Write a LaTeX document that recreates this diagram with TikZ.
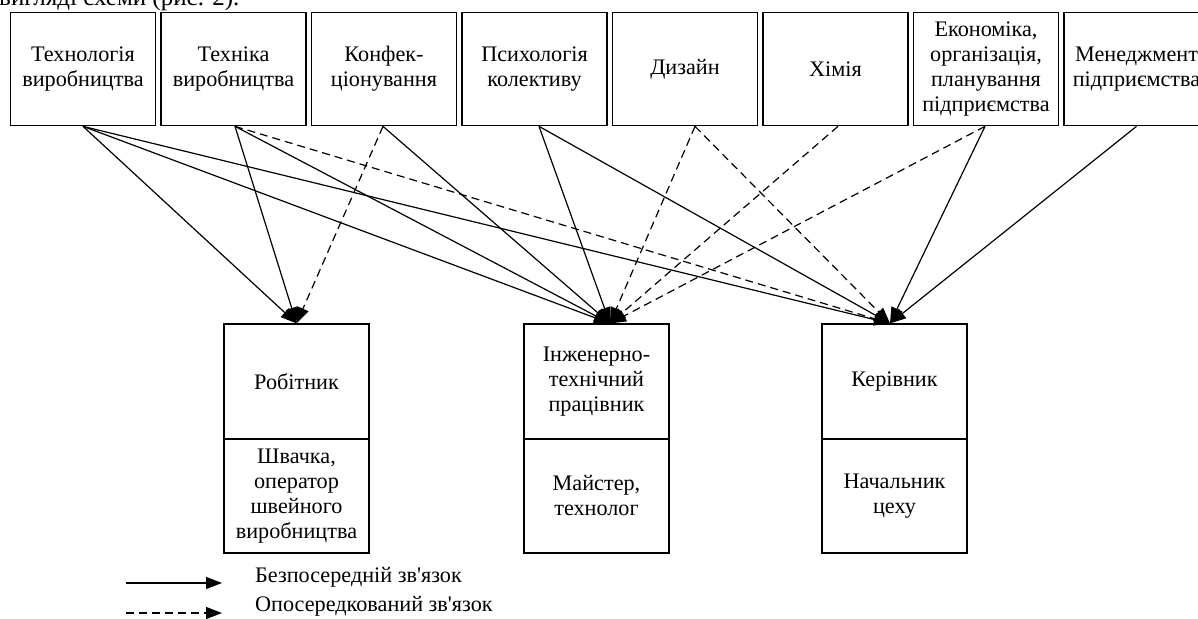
\documentclass[tikz,border=0pt]{standalone}
\usepackage{fontspec}
\newfontfamily\serif{Liberation Serif}
\usetikzlibrary{arrows.meta}
\begin{document}
\begin{tikzpicture}[x=1pt,y=-1pt,
  txt/.style={font=\serif\fontsize{22.2}{25}\selectfont,inner sep=0pt},
  box/.style={txt,draw,line width=1.2pt,minimum width=145pt,minimum height=113.5pt,align=center},
  conn/.style={line width=1.2pt,-{Triangle[length=16pt,width=12pt]}},
  ind/.style={conn,dash pattern=on 8pt off 5pt}
]
\useasboundingbox (0,0) rectangle (1198,618);
\clip (0,0) rectangle (1198,618);

\node[txt,font=\serif\fontsize{25}{28}\selectfont,anchor=base west] (intro) at (-1,5.5) {вигляді схеми (рис. 2).};

% top boxes
\node[box] (t1) at (83,69) {Технологія\\виробництва};
\node[box] (t2) at (233.5,69) {Техніка\\виробництва};
\node[box] (t3) at (384,69) {Конфек-\\ціонування};
\node[box] (t4) at (534.5,69) {Психологія\\колективу};
\node[box] (t5) at (685,69) {Дизайн};
\node[box] (t6) at (835.5,69) {Хімія};
\node[box] (t7) at (986,69) {Економіка,\\організація,\\планування\\підприємства};
\node[box] (t8) at (1136.5,69) {Менеджмент\\підприємства};

% bottom boxes
\node[box,minimum height=115pt] (rob) at (296.5,381.5) {Робітник};
\node[box,minimum height=114pt] (robs) at (296.5,496) {Швачка,\\оператор\\швейного\\виробництва};
\node[box,minimum height=115pt] (ing) at (596.5,381.5) {Інженерно-\\технічний\\працівник};
\node[box,minimum height=114pt] (ings) at (596.5,496) {Майстер,\\технолог};
\node[box,minimum height=115pt] (ker) at (894.5,381.5) {Керівник};
\node[box,minimum height=114pt] (kers) at (894.5,496) {Начальник\\цеху};

% connectors
\draw[conn] (t1.south) -- (rob.north);
\draw[conn] (t1.south) -- ([xshift=13.5pt]ing.north);
\draw[conn] (t1.south) -- ([xshift=-4.5pt]ker.north);

\draw[conn] ([xshift=1.5pt]t2.south) -- (rob.north);
\draw[conn] ([xshift=1.5pt]t2.south) -- ([xshift=13.5pt]ing.north);
\draw[ind] ([xshift=1.5pt]t2.south) -- ([xshift=-4.5pt]ker.north);

\draw[ind] ([xshift=-1pt]t3.south) -- (rob.north);
\draw[conn] ([xshift=-1pt]t3.south) -- ([xshift=13.5pt]ing.north);

\draw[conn] ([xshift=4.5pt]t4.south) -- ([xshift=13.5pt]ing.north);
\draw[conn] ([xshift=4.5pt]t4.south) -- ([xshift=-4.5pt]ker.north);

\draw[ind] ([xshift=10pt]t5.south) -- ([xshift=13.5pt]ing.north);
\draw[ind] ([xshift=10pt]t5.south) -- ([xshift=-4.5pt]ker.north);

\draw[ind] ([xshift=2.5pt]t6.south) -- ([xshift=13.5pt]ing.north);

\draw[ind] ([xshift=-1pt]t7.south) -- ([xshift=13.5pt]ing.north);
\draw[conn] ([xshift=-1pt]t7.south) -- ([xshift=-4.5pt]ker.north);

\draw[conn] (t8.south) -- ([xshift=-4.5pt]ker.north);

% legend
\coordinate (l1a) at (126,583);
\coordinate (l1b) at (222,583);
\coordinate (l2a) at (126,613);
\coordinate (l2b) at (222,613);
\draw[conn] (l1a) -- (l1b);
\draw[ind] (l2a) -- (l2b);
\node[txt,anchor=base west] (lt1) at (255,582) {Безпосередній зв'язок};
\node[txt,anchor=base west] (lt2) at (255,611) {Опосередкований зв'язок};
\end{tikzpicture}
\end{document}
